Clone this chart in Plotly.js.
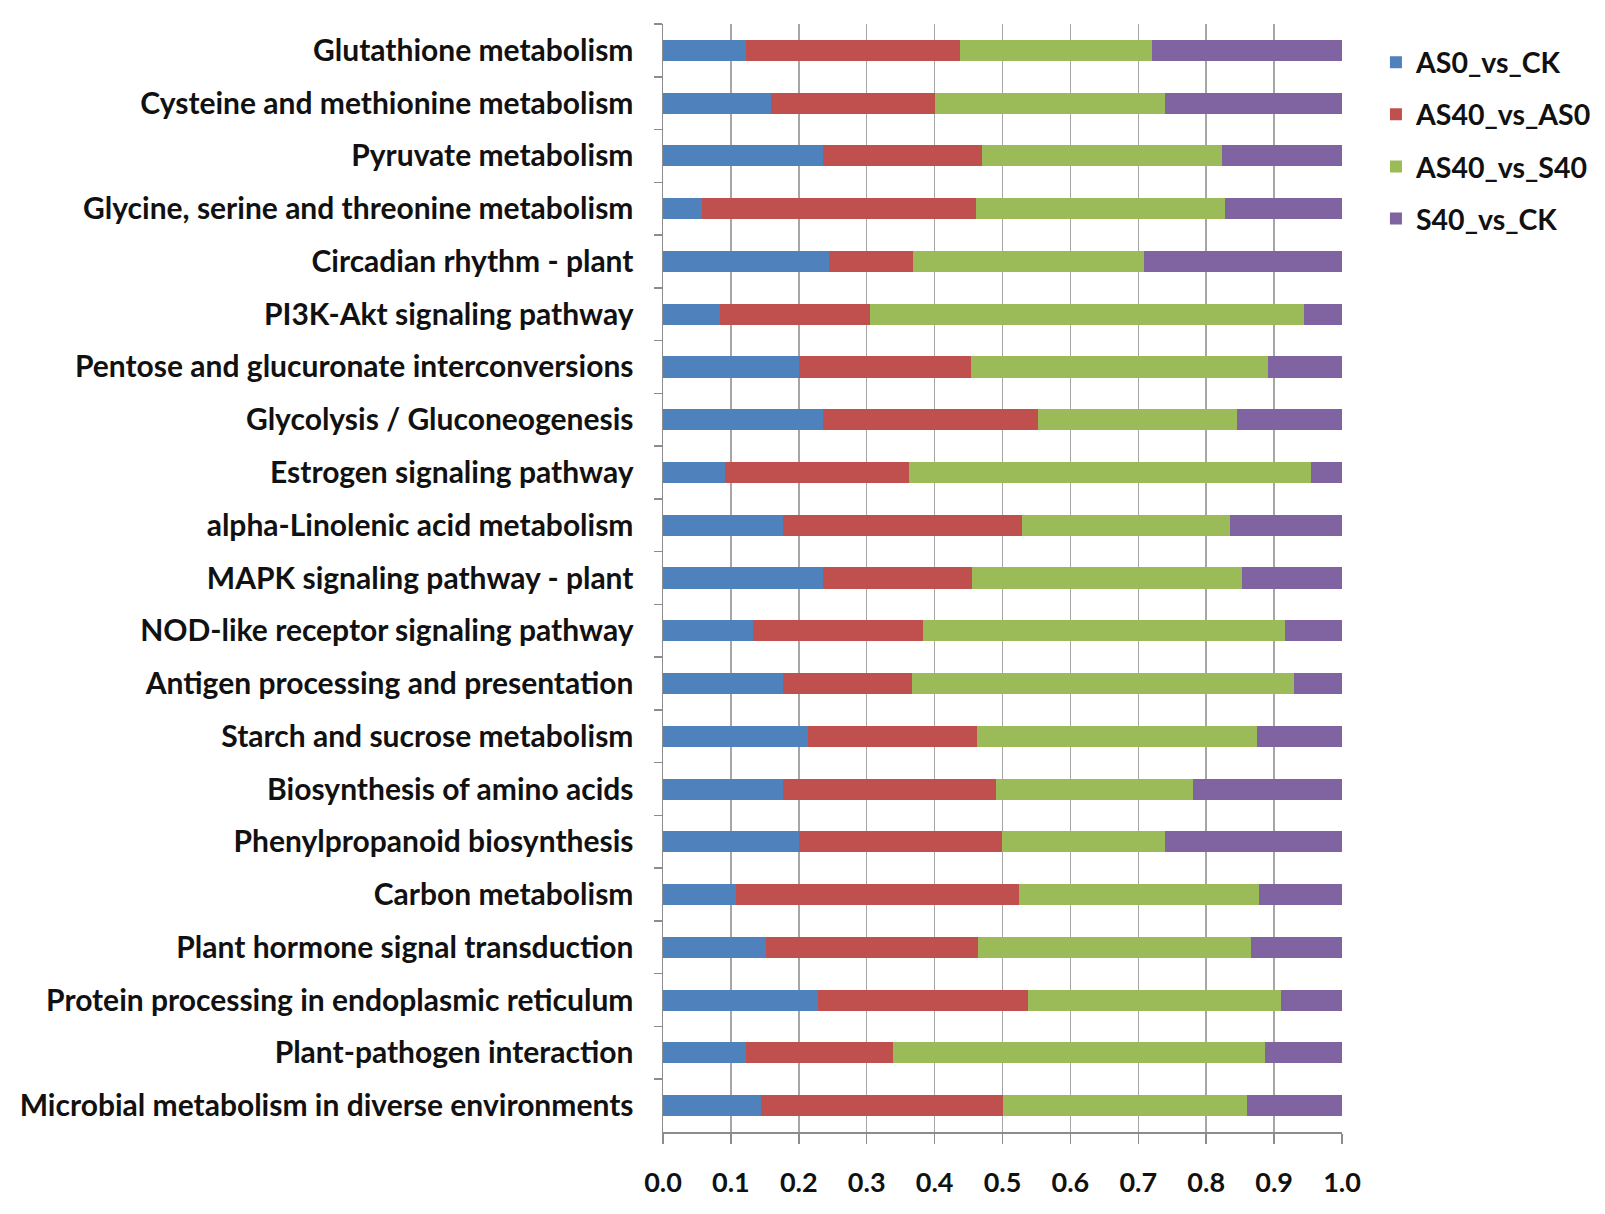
<!DOCTYPE html>
<html>
<head>
<meta charset="utf-8">
<script src="https://cdn.plot.ly/plotly-3.0.1.min.js"></script>
<style>
  html, body { margin: 0; padding: 0; background: #fff; }
  #chart { width: 1605px; height: 1214px; }
</style>
</head>
<body>
<div id="chart"></div>
<script>

// pathways, top to bottom as drawn
var pathways = [
  'Glutathione metabolism',
  'Cysteine and methionine metabolism',
  'Pyruvate metabolism',
  'Glycine, serine and threonine metabolism',
  'Circadian rhythm - plant',
  'PI3K-Akt signaling pathway',
  'Pentose and glucuronate interconversions',
  'Glycolysis / Gluconeogenesis',
  'Estrogen signaling pathway',
  'alpha-Linolenic acid metabolism',
  'MAPK signaling pathway - plant',
  'NOD-like receptor signaling pathway',
  'Antigen processing and presentation',
  'Starch and sucrose metabolism',
  'Biosynthesis of amino acids',
  'Phenylpropanoid biosynthesis',
  'Carbon metabolism',
  'Plant hormone signal transduction',
  'Protein processing in endoplasmic reticulum',
  'Plant-pathogen interaction',
  'Microbial metabolism in diverse environments'
];

// share of each comparison
var as0VsCk   = [0.122, 0.159, 0.236, 0.058, 0.245, 0.084, 0.201, 0.236, 0.091, 0.177, 0.236,
                 0.133, 0.176, 0.213, 0.176, 0.201, 0.107, 0.152, 0.228, 0.122, 0.144];
var as40VsAs0 = [0.316, 0.241, 0.234, 0.403, 0.123, 0.221, 0.253, 0.316, 0.272, 0.351, 0.219,
                 0.250, 0.191, 0.250, 0.315, 0.298, 0.417, 0.312, 0.310, 0.216, 0.357];
var as40VsS40 = [0.282, 0.340, 0.353, 0.366, 0.340, 0.639, 0.437, 0.294, 0.591, 0.307, 0.398,
                 0.533, 0.563, 0.412, 0.289, 0.241, 0.354, 0.402, 0.372, 0.549, 0.359];
var s40VsCk   = [0.280, 0.260, 0.177, 0.173, 0.292, 0.056, 0.109, 0.154, 0.046, 0.165, 0.147,
                 0.084, 0.070, 0.125, 0.220, 0.260, 0.122, 0.134, 0.090, 0.113, 0.140];

var seriesNames  = ['AS0_vs_CK', 'AS40_vs_AS0', 'AS40_vs_S40', 'S40_vs_CK'];
var seriesColors = ['#4F81BD', '#C0504D', '#9BBB59', '#8064A2'];
var seriesValues = [as0VsCk, as40VsAs0, as40VsS40, s40VsCk];

var fontFamily = 'Lato, "Open Sans", sans-serif';
var catFont    = {family: fontFamily, size: 30, color: '#111', weight: 'bold'};
var tickFont   = {family: fontFamily, size: 27, color: '#111', weight: 'bold'};
var legendFont = {family: fontFamily, size: 28.5, color: '#111', weight: 'bold'};

var data = [];
for (let i = 0; i < seriesNames.length; i++) {
  data.push({
    type: 'bar',
    orientation: 'h',
    name: seriesNames[i],
    legendgroup: 'g' + i,
    x: seriesValues[i],
    y: pathways,
    marker: {color: seriesColors[i]},
    hoverinfo: 'name+x'
  });
}

var layout = {
  width: 1605,
  height: 1214,
  margin: {l: 663, r: 263, t: 24, b: 82, autoexpand: false},
  paper_bgcolor: '#fff',
  plot_bgcolor: '#fff',
  barmode: 'stack',
  bargap: 0.6,
  font: tickFont,
  showlegend: true,
  legend: {
    x: 1.05, xanchor: 'left',
    y: 0.988, yanchor: 'top',
    traceorder: 'grouped',
    tracegroupgap: 12,
    font: legendFont,
    bgcolor: 'rgba(0,0,0,0)'
  },
  xaxis: {
    range: [0, 1],
    dtick: 0.1,
    tick0: 0,
    tickformat: '.1f',
    showgrid: true,
    gridcolor: '#A6A6A6',
    gridwidth: 1.5,
    zeroline: false,
    showline: true,
    linecolor: '#8C8C8C',
    linewidth: 1.5,
    ticks: 'outside',
    ticklen: 10,
    tickwidth: 1.5,
    tickcolor: '#8C8C8C',
    ticklabelstandoff: 16,
    tickfont: tickFont,
    automargin: false,
    fixedrange: true
  },
  yaxis: {
    type: 'category',
    autorange: 'reversed',
    showgrid: false,
    showline: true,
    linecolor: '#8C8C8C',
    linewidth: 1.5,
    ticks: 'outside',
    tickson: 'boundaries',
    ticklen: 8,
    tickwidth: 1.5,
    tickcolor: '#8C8C8C',
    ticklabelstandoff: 22,
    tickfont: catFont,
    automargin: false,
    fixedrange: true
  }
};

Plotly.newPlot('chart', data, layout, {displayModeBar: false, staticPlot: true});

</script>
</body>
</html>
